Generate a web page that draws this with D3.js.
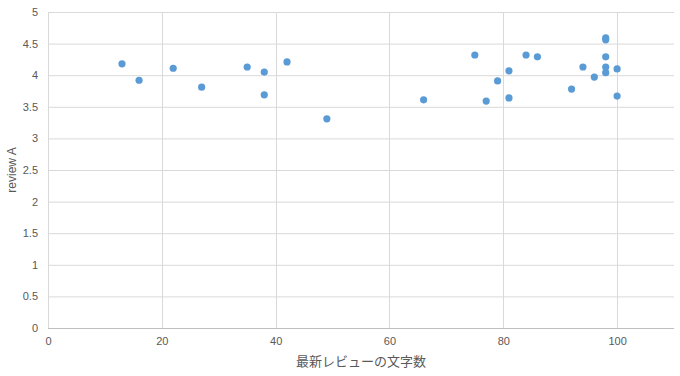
<!DOCTYPE html>
<html>
<head>
<meta charset="utf-8">
<script src="https://cdn.jsdelivr.net/npm/d3@7"></script>
<style>
  body { margin: 0; background: #fff; }
  text { font-family: "Liberation Sans", "Noto Sans CJK JP", sans-serif; fill: #595959; }
</style>
</head>
<body>
<div class="chart"></div>
<script>
// review length (chars) vs review A score
const lengths = [13, 16, 22, 27, 35, 38, 38, 42, 49,
  66, 75, 77, 79, 81, 81, 84, 86, 92, 94, 96, 98, 98, 98, 98, 98, 100, 100];
const scores = [4.18, 3.92, 4.11, 3.81, 4.13, 4.05, 3.69, 4.21, 3.31,
  3.61, 4.32, 3.59, 3.91, 4.07, 3.64, 4.32, 4.29, 3.78, 4.13, 3.97, 4.59, 4.56, 4.29, 4.13, 4.04, 4.10, 3.67];
const xTicks = [0, 20, 40, 60, 80, 100];
const yTicks = [0, 0.5, 1, 1.5, 2, 2.5, 3, 3.5, 4, 4.5, 5];

const w = 680;
const h = 376;
const margin = { top: 12, right: 6, bottom: 48, left: 48 };

const xScale = d3.scaleLinear().domain([0, 110]).range([margin.left, w - margin.right]);
const yScale = d3.scaleLinear().domain([0, 5]).range([h - margin.bottom, margin.top]);

const svg = d3.select(".chart").append("svg").attr("width", w).attr("height", h);

// gridlines
svg.append("g")
  .selectAll("line.h")
  .data(yTicks.filter((d) => d > 0))
  .enter()
  .append("line")
  .attr("x1", margin.left)
  .attr("x2", w - margin.right)
  .attr("y1", (d) => yScale(d) + 0.5)
  .attr("y2", (d) => yScale(d) + 0.5)
  .attr("stroke", "#d9d9d9");
svg.append("g")
  .selectAll("line.v")
  .data(xTicks)
  .enter()
  .append("line")
  .attr("x1", (d) => Math.round(xScale(d)) + 0.5)
  .attr("x2", (d) => Math.round(xScale(d)) + 0.5)
  .attr("y1", margin.top)
  .attr("y2", yScale(0))
  .attr("stroke", "#d9d9d9");

// x axis line
svg.append("line")
  .attr("x1", margin.left)
  .attr("x2", w - margin.right)
  .attr("y1", yScale(0) + 0.5)
  .attr("y2", yScale(0) + 0.5)
  .attr("stroke", "#bfbfbf");

const xAxis = d3.axisBottom(xScale).tickValues(xTicks).tickSize(0).tickPadding(9);
const yAxis = d3.axisLeft(yScale).tickValues(yTicks).tickSize(0).tickPadding(10)
  .tickFormat(d3.format("~g"));

svg.append("g")
  .attr("transform", "translate(0," + yScale(0) + ")")
  .call(xAxis)
  .call((g) => g.select(".domain").remove())
  .selectAll("text")
  .style("font-size", "11px")
  .attr("fill", "#595959");
svg.append("g")
  .attr("transform", "translate(" + margin.left + ",0)")
  .call(yAxis)
  .call((g) => g.select(".domain").remove())
  .selectAll("text")
  .style("font-size", "11px")
  .attr("fill", "#595959");

// points
svg.append("g")
  .selectAll("circle")
  .data(lengths)
  .enter()
  .append("circle")
  .attr("cx", (d) => xScale(d))
  .attr("cy", (d, i) => yScale(scores[i]))
  .attr("r", 3.6)
  .style("fill", "#5b9bd5");

// axis titles
svg.append("text")
  .attr("x", (margin.left + w - margin.right) / 2)
  .attr("y", 366)
  .attr("text-anchor", "middle")
  .style("font-size", "13px")
  .text("最新レビューの文字数");
svg.append("text")
  .attr("transform", "translate(16," + (margin.top + yScale(0)) / 2 + ") rotate(-90)")
  .attr("text-anchor", "middle")
  .style("font-size", "12px")
  .text("review A");
</script>
</body>
</html>
